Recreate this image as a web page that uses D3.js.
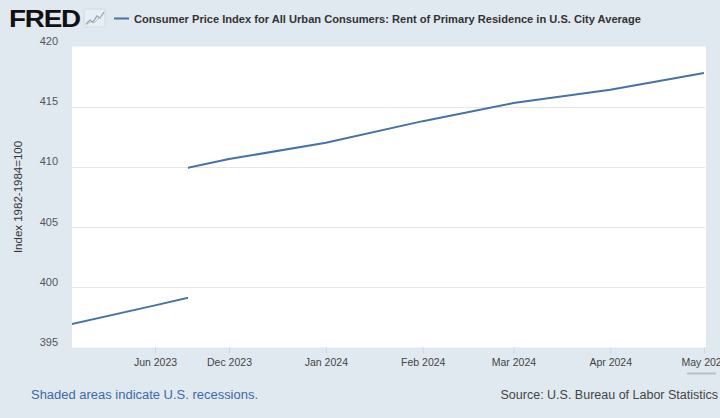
<!DOCTYPE html>
<html><head><meta charset="utf-8">
<script src="https://cdn.jsdelivr.net/npm/d3@7"></script>
<style>
html,body{margin:0;padding:0;background:#e1e9f0;}
svg{display:block;font-family:"Liberation Sans",Arial,Helvetica,sans-serif;}
</style></head>
<body>
<svg id="c" width="720" height="418"></svg>
<script>
// ---- data ----
const seriesTitle = "Consumer Price Index for All Urban Consumers: Rent of Primary Residence in U.S. City Average";
const leftDates  = ["2023-05-01","2023-06-01","2023-07-01"];
const leftValues = [396.7, 398.5, 400.3];
const rightDates  = ["2023-11-01","2023-12-01","2024-01-01","2024-02-01","2024-03-01","2024-04-01","2024-05-01"];
const rightValues = [409.0, 410.65, 412.0, 413.8, 415.3, 416.4, 417.8];
const leftTickDates = ["2023-06-01"];
const leftTickLabels = ["Jun 2023"];
const rightTickDates = ["2023-12-01","2024-01-01","2024-02-01","2024-03-01","2024-04-01","2024-05-01"];
const rightTickLabels = ["Dec 2023","Jan 2024","Feb 2024","Mar 2024","Apr 2024","May 2024"];
const yTicks = [395, 400, 405, 410, 415, 420];
const yTitle = "Index 1982-1984=100";
const noteText = "Shaded areas indicate U.S. recessions.";
const sourceText = "Source: U.S. Bureau of Labor Statistics";

const parse = d3.timeParse("%Y-%m-%d");
const svg = d3.select("#c");
const plot = {left: 72, right: 705, top: 46.5, bottom: 347.5, split: 188};
const lineColor = "#4572a7";

// scales
const y = d3.scaleLinear().domain([395, 420]).range([plot.bottom, plot.top]);
const xLeft = d3.scaleTime().domain([parse("2023-06-01"), parse("2023-07-01")]).range([155, 248.75]);
const xRight = d3.scaleTime().domain([parse("2023-12-01"), parse("2024-05-01")]).range([229, 704]);

// plot background
svg.append("rect").attr("x", plot.left).attr("y", plot.top)
  .attr("width", plot.right - plot.left + 1).attr("height", plot.bottom - plot.top)
  .attr("fill", "#ffffff");

const defs = svg.append("defs");
defs.append("clipPath").attr("id", "clipL").append("rect")
  .attr("x", plot.left).attr("y", plot.top - 5).attr("width", plot.split - plot.left).attr("height", plot.bottom - plot.top + 10);
defs.append("clipPath").attr("id", "clipR").append("rect")
  .attr("x", plot.split).attr("y", plot.top - 5).attr("width", plot.right - plot.split + 2).attr("height", plot.bottom - plot.top + 10);

// gridlines
svg.append("g").selectAll("line").data(yTicks.filter(v => v > 395 && v < 420)).join("line")
  .attr("x1", plot.left).attr("x2", plot.right)
  .attr("y1", d => Math.round(y(d)) + 0.5).attr("y2", d => Math.round(y(d)) + 0.5)
  .attr("stroke", "#e6e6e6").attr("stroke-width", 1);

// y axis labels
const yAxis = d3.axisLeft(y).tickValues(yTicks).tickSize(0).tickPadding(0).tickFormat(d3.format("d"));
const gy = svg.append("g").attr("transform", `translate(58,-5.5)`).call(yAxis);
gy.select(".domain").remove();
gy.selectAll("text").attr("fill", "#555").attr("font-size", 11)
  .attr("font-family", "'Liberation Sans',Arial,sans-serif");

// y title
svg.append("text").attr("transform", "translate(22,197) rotate(-90)")
  .attr("text-anchor", "middle").attr("font-size", 11.5).attr("fill", "#333").text(yTitle);

// x axes
function styleX(g) {
  g.select(".domain").remove();
  g.selectAll(".tick line").attr("stroke", "#ccd6eb");
  g.selectAll("text").attr("fill", "#444").attr("font-size", 10.5)
    .attr("font-family", "'Liberation Sans',Arial,sans-serif");
}
const axL = d3.axisBottom(xLeft).tickValues(leftTickDates.map(parse))
  .tickFormat((d, i) => leftTickLabels[i]).tickSize(6).tickPadding(5);
svg.append("g").attr("transform", `translate(0,${plot.bottom})`).call(axL).call(styleX);
const axR = d3.axisBottom(xRight).tickValues(rightTickDates.map(parse))
  .tickFormat((d, i) => rightTickLabels[i]).tickSize(6).tickPadding(5);
svg.append("g").attr("transform", `translate(0,${plot.bottom})`).call(axR).call(styleX);

// lines
const leftData = leftDates.map((d, i) => ({date: parse(d), value: leftValues[i]}));
const rightData = rightDates.map((d, i) => ({date: parse(d), value: rightValues[i]}));
svg.append("path").datum(leftData).attr("clip-path", "url(#clipL)")
  .attr("fill", "none").attr("stroke", lineColor).attr("stroke-width", 2)
  .attr("d", d3.line().x(d => xLeft(d.date)).y(d => y(d.value)));
svg.append("path").datum(rightData).attr("clip-path", "url(#clipR)")
  .attr("fill", "none").attr("stroke", lineColor).attr("stroke-width", 2)
  .attr("d", d3.line().x(d => xRight(d.date)).y(d => y(d.value)));

// header: FRED logo + icon
svg.append("text").attr("x", 9).attr("y", 27).attr("font-size", 24).attr("font-weight", "bold")
  .attr("fill", "#111").attr("textLength", 71).attr("lengthAdjust", "spacingAndGlyphs")
  .style("letter-spacing", "-1px").text("FRED");
const icon = svg.append("g").attr("transform", "translate(84,9)");
icon.append("rect").attr("width", 21).attr("height", 18).attr("rx", 2).attr("fill", "#e8eef4").attr("stroke", "#d0d9e2");
icon.append("path").attr("d", "M2,15 L6,11 L9,13 L13,7 L16,9 L20,3")
  .attr("fill", "none").attr("stroke", "#8fa9c4").attr("stroke-width", 1.3);
icon.append("path").attr("d", "M2,16 L6,13 L10,14 L14,10 L19,6")
  .attr("fill", "none").attr("stroke", "#b9c9a0").attr("stroke-width", 1);

// legend
svg.append("line").attr("x1", 114).attr("x2", 129).attr("y1", 18.5).attr("y2", 18.5)
  .attr("stroke", lineColor).attr("stroke-width", 2);
svg.append("text").attr("x", 134).attr("y", 22.5).attr("font-size", 11.5).attr("font-weight", "bold")
  .attr("fill", "#333").attr("textLength", 507).attr("lengthAdjust", "spacingAndGlyphs").text(seriesTitle);

// footer
svg.append("text").attr("x", 31).attr("y", 399).attr("font-size", 12.5).attr("fill", "#3c6aa6")
  .attr("textLength", 227).attr("lengthAdjust", "spacingAndGlyphs").text(noteText);
svg.append("text").attr("x", 718).attr("y", 399).attr("font-size", 12.5).attr("fill", "#444")
  .attr("text-anchor", "end").text(sourceText);

// small scrollbar remnant under last label
svg.append("line").attr("x1", 687).attr("x2", 716).attr("y1", 373.5).attr("y2", 373.5)
  .attr("stroke", "#b8c2cc").attr("stroke-width", 2);
</script>
</body></html>
